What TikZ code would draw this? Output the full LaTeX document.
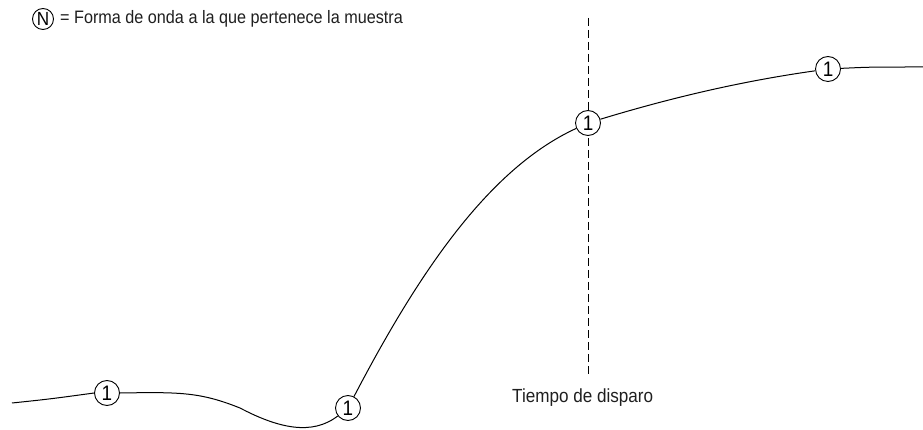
\documentclass[tikz,border=0pt]{standalone}
\usepackage{fontspec}
\setmainfont{Liberation Sans}[FakeStretch=0.9]
\begin{document}
\begin{tikzpicture}[x=1pt,y=-1pt,
  wave/.style={line width=1pt},
  smp/.style={circle,draw,line width=0.9pt,fill=white,inner sep=0pt,minimum size=25pt,font=\fontsize{21}{21}\selectfont},
  lbl/.style={font=\fontsize{18}{20}\selectfont,inner sep=0pt,text=black!88}]
\useasboundingbox (0,0) rectangle (923,430);
% trigger line
\coordinate (t1) at (588,18);
\coordinate (t2) at (588,376);
\draw[line width=0.9pt,dash pattern=on 8pt off 4pt] (t1) -- (t2);
\node[lbl,font=\fontsize{19}{20}\selectfont,anchor=north west] (tl) at (512,389) {Tiempo de disparo};
% legend
\node[smp,minimum size=21pt,font=\fontsize{19}{19}\selectfont] (lg) at (43,19) {N};
\node[lbl,anchor=west] (lt) at (60,19) {= Forma de onda a la que pertenece la muestra};
% samples
\coordinate (s) at (12,403);
\coordinate (m) at (240,408);
\coordinate (e) at (923,67);
\node[smp] (c1) at (107,393) {};
\node[smp] (c2) at (348,408) {};
\node[smp] (c3) at (588,123) {};
\node[smp] (c4) at (828,69) {};
\draw[wave] (s) .. controls (50,399) .. (c1.west);
\draw[wave] (c1.east) .. controls (180,392) and (200,392) .. (m);
\draw[wave] (m) .. controls (278,428) and (312,436) .. (c2);
\draw[wave] (c2) .. controls (420,270) and (490,168) .. (c3);
\draw[wave] (c3) .. controls (680,95) and (750,80) .. (c4);
\draw[wave] (c4) .. controls (870,67) .. (e);
\node[smp,draw=none,fill=none] at (c1) {1};
\node[smp,draw=none,fill=none] at (c2) {1};
\node[smp,draw=none,fill=none] at (c3) {1};
\node[smp,draw=none,fill=none] at (c4) {1};
\end{tikzpicture}
\end{document}
